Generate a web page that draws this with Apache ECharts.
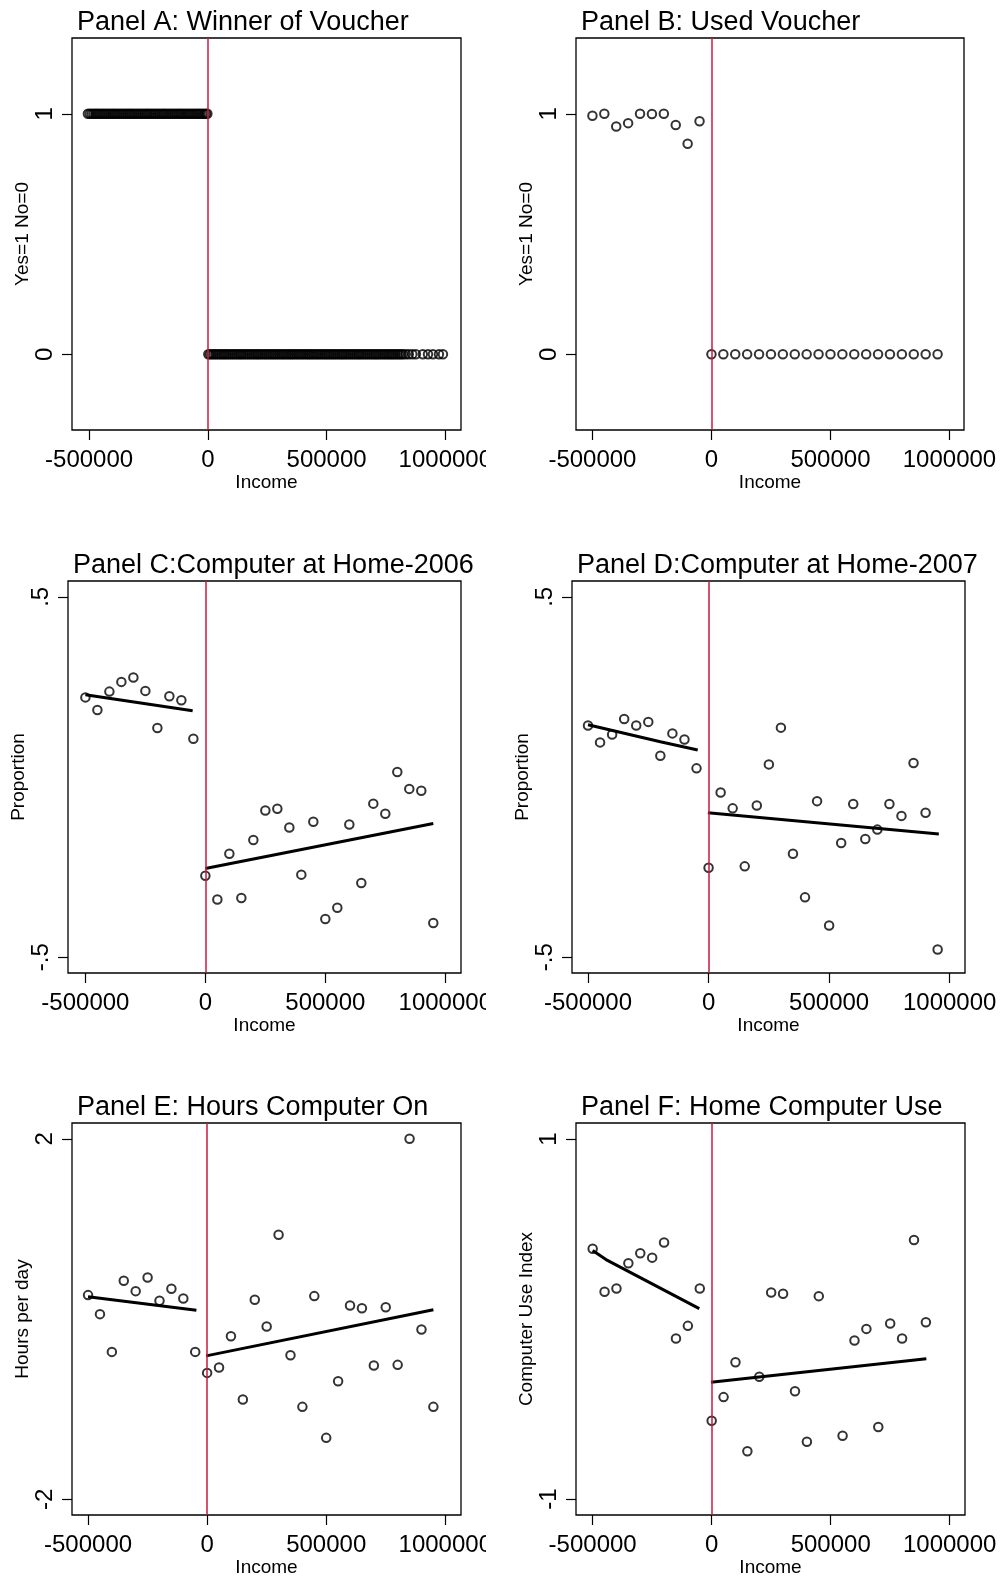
<!DOCTYPE html>
<html>
<head>
<meta charset="utf-8">
<script src="https://cdn.jsdelivr.net/npm/echarts@6.0.0/dist/echarts.min.js"></script>
<style>
  html, body { margin: 0; padding: 0; background: #fff; }
  #container { width: 1000px; height: 1579px; }
</style>
</head>
<body>
<div id="container"></div>
<script>
var FONT = '"Liberation Sans", Arial, Helvetica, sans-serif';
var RED = '#c8193f';

// income bins (binned means)
var leftBins = [-500000, -450000, -400000, -350000, -300000, -250000, -200000, -150000, -100000, -50000];
var rightBins = [0, 50000, 100000, 150000, 200000, 250000, 300000, 350000, 400000, 450000,
                 500000, 550000, 600000, 650000, 700000, 750000, 800000, 850000, 900000, 950000];

// Panel A: individual observations (winners y=1, losers y=0)
var winnerYesX = [-505000, -497000, -489000, -481000, -473000, -466000, -458000, -450000, -442000, -434000,
                  -426000, -418000, -410000, -402000, -395000, -387000, -379000, -371000, -363000, -355000,
                  -347000, -339000, -331000, -324000, -316000, -308000, -300000, -292000, -284000, -276000,
                  -268000, -260000, -253000, -245000, -237000, -229000, -221000, -213000, -205000, -197000,
                  -189000, -182000, -174000, -166000, -158000, -150000, -142000, -134000, -126000, -118000,
                  -111000, -103000, -95000, -87000, -79000, -71000, -63000, -55000, -47000, -40000,
                  -32000, -24000, -16000, -8000, -2000];
var winnerNoX = [2000, 9000, 17000, 25000, 33000, 41000, 49000, 57000, 65000, 72000, 80000, 88000, 96000,
                 104000, 112000, 120000, 128000, 136000, 143000, 151000, 159000, 167000, 175000, 183000,
                 191000, 199000, 207000, 214000, 222000, 230000, 238000, 246000, 254000, 262000, 270000,
                 278000, 285000, 293000, 301000, 309000, 317000, 325000, 333000, 341000, 349000, 356000,
                 364000, 372000, 380000, 388000, 396000, 404000, 412000, 420000, 427000, 435000, 443000,
                 451000, 459000, 467000, 475000, 483000, 491000, 498000, 506000, 514000, 522000, 530000,
                 538000, 546000, 554000, 562000, 569000, 577000, 585000, 593000, 601000, 609000, 617000,
                 625000, 633000, 640000, 648000, 656000, 664000, 672000, 680000, 688000, 696000, 704000,
                 711000, 719000, 727000, 735000, 743000, 751000, 759000, 767000, 775000, 782000, 790000,
                 798000, 806000, 814000, 822000, 833000, 846000, 861000, 876000, 905000, 927000, 948000,
                 973000, 990000];

// Panel B
var usedLeft = [0.992, 1.0, 0.947, 0.961, 1.0, 0.999, 1.0, 0.953, 0.875, 0.969];
var usedRight = [0, 0, 0, 0, 0, 0, 0, 0, 0, 0, 0, 0, 0, 0, 0, 0, 0, 0, 0, 0];

// Panel C
var home06Left = [0.221, 0.186, 0.237, 0.264, 0.276, 0.239, 0.136, 0.224, 0.213, 0.106];
var home06Right = [-0.274, -0.340, -0.213, -0.336, -0.175, -0.093, -0.088, -0.140, -0.271, -0.124,
                   -0.394, -0.363, -0.132, -0.294, -0.074, -0.102, 0.014, -0.033, -0.038, -0.405];
var home06FitLeft = [[-500000, 0.228], [-53000, 0.184]];
var home06FitRight = [[0, -0.254], [950000, -0.129]];

// Panel D
var home07Left = [0.143, 0.096, 0.118, 0.161, 0.143, 0.153, 0.059, 0.121, 0.104, 0.024];
var home07Right = [-0.252, -0.043, -0.087, -0.248, -0.079, 0.035, 0.137, -0.213, -0.334, -0.067,
                   -0.412, -0.183, -0.075, -0.172, -0.146, -0.075, -0.108, 0.039, -0.099, -0.479];
var home07FitLeft = [[-500000, 0.145], [-200000, 0.098], [-45000, 0.075]];
var home07FitRight = [[-3000, -0.099], [955000, -0.158]];

// Panel E
var hoursLeft = [0.265, 0.054, -0.365, 0.424, 0.309, 0.461, 0.202, 0.335, 0.228, -0.365];
var hoursRight = [-0.598, -0.538, -0.191, -0.894, 0.213, -0.083, 0.934, -0.402, -0.975, 0.254,
                  -1.319, -0.690, 0.150, 0.120, -0.516, 0.131, -0.509, 2.0, -0.117, -0.975];
var hoursFitLeft = [[-500000, 0.246], [-45000, 0.098]];
var hoursFitRight = [[-4000, -0.409], [950000, 0.102]];

// Panel F (no bins at 500000 and 950000)
var useRightX = [0, 50000, 100000, 150000, 200000, 250000, 300000, 350000, 400000, 450000,
                 550000, 600000, 650000, 700000, 750000, 800000, 850000, 900000];
var useLeft = [0.390, 0.151, 0.169, 0.310, 0.365, 0.341, 0.425, -0.108, -0.038, 0.169];
var useRight = [-0.565, -0.434, -0.240, -0.735, -0.321, 0.147, 0.140, -0.401, -0.682, 0.127,
                -0.649, -0.119, -0.055, -0.600, -0.025, -0.108, 0.439, -0.018];
var useFitLeft = [[-500000, 0.380], [-444000, 0.330], [-52000, 0.058]];
var useFitRight = [[-3000, -0.351], [902000, -0.221]];

function pairs(xs, ys) {
    return xs.map(function (x, i) { return [x, ys[i]]; });
}
function flat(xs, y) {
    return xs.map(function (x) { return [x, y]; });
}

var panels = [
    { title: 'Panel A: Winner of Voucher', yName: 'Yes=1 No=0',
      box: [72, 38, 389, 392], xr: [-572000, 1066000], yr: [-0.315, 1.315], yTicks: [0, 1],
      left: flat(winnerYesX, 1), right: flat(winnerNoX, 0) },
    { title: 'Panel B: Used Voucher', yName: 'Yes=1 No=0',
      box: [576, 38, 388, 392], xr: [-569000, 1061000], yr: [-0.315, 1.315], yTicks: [0, 1],
      left: pairs(leftBins, usedLeft), right: pairs(rightBins, usedRight) },
    { title: 'Panel C:Computer at Home-2006', yName: 'Proportion',
      box: [68, 581, 393, 392], xr: [-572500, 1065500], yr: [-0.544, 0.544], yTicks: [-0.5, 0.5],
      left: pairs(leftBins, home06Left), right: pairs(rightBins, home06Right),
      fitL: home06FitLeft, fitR: home06FitRight },
    { title: 'Panel D:Computer at Home-2007', yName: 'Proportion',
      box: [572, 581, 393, 392], xr: [-566400, 1063500], yr: [-0.544, 0.544], yTicks: [-0.5, 0.5],
      left: pairs(leftBins, home07Left), right: pairs(rightBins, home07Right),
      fitL: home07FitLeft, fitR: home07FitRight },
    { title: 'Panel E: Hours Computer On', yName: 'Hours per day',
      box: [72, 1123, 389, 392], xr: [-567400, 1066000], yr: [-2.175, 2.175], yTicks: [-2, 2],
      left: pairs(leftBins, hoursLeft), right: pairs(rightBins, hoursRight),
      fitL: hoursFitLeft, fitR: hoursFitRight },
    { title: 'Panel F: Home Computer Use', yName: 'Computer Use Index',
      box: [576, 1123, 389, 392], xr: [-570000, 1064300], yr: [-1.089, 1.089], yTicks: [-1, 1],
      left: pairs(leftBins, useLeft), right: pairs(useRightX, useRight),
      fitL: useFitLeft, fitR: useFitRight }
];

var xTicks = [-500000, 0, 500000, 1000000];

var titles = [], grids = [], xAxes = [], yAxes = [], series = [], graphics = [];

panels.forEach(function (p, i) {
    var b = p.box;
    titles.push({
        text: p.title, left: b[0] + 5, top: b[1] - 29, padding: 0,
        textStyle: { fontSize: 27, fontWeight: 'normal', color: '#000', fontFamily: FONT }
    });
    grids.push({
        left: b[0], top: b[1], width: b[2], height: b[3],
        show: true, borderColor: '#000', borderWidth: 1.3, backgroundColor: 'transparent'
    });
    xAxes.push({
        type: 'value', gridIndex: i, min: p.xr[0], max: p.xr[1],
        axisLine: { show: false, onZero: false }, splitLine: { show: false },
        axisTick: { show: true, customValues: xTicks, length: 10, lineStyle: { color: '#000', width: 1.2 } },
        axisLabel: { customValues: xTicks, color: '#000', fontSize: 24, fontFamily: FONT, margin: 18,
                     formatter: function (v) { return String(v); } },
        name: 'Income', nameLocation: 'middle', nameGap: 42,
        nameTextStyle: { fontSize: 19, color: '#000', fontFamily: FONT }
    });
    yAxes.push({
        type: 'value', gridIndex: i, min: p.yr[0], max: p.yr[1],
        axisLine: { show: false, onZero: false }, splitLine: { show: false },
        axisTick: { show: true, customValues: p.yTicks, length: 10, lineStyle: { color: '#000', width: 1.2 } },
        axisLabel: { customValues: p.yTicks, rotate: 90, color: '#000', fontSize: 24, fontFamily: FONT, margin: 15,
                     formatter: function (v) { return String(v).replace('0.', '.'); } },
        name: p.yName, nameLocation: 'middle', nameGap: 40,
        nameTextStyle: { fontSize: 19, color: '#000', fontFamily: FONT }
    });

    var dot = {
        type: 'scatter', xAxisIndex: i, yAxisIndex: i, symbol: 'circle', symbolSize: 8.5, z: 2,
        itemStyle: { color: 'rgba(0,0,0,0)', borderColor: '#000', borderWidth: 2 }
    };
    series.push(Object.assign({}, dot, { data: p.left }));
    series.push(Object.assign({}, dot, { data: p.right }));

    [p.fitL, p.fitR].forEach(function (fit) {
        if (!fit) return;
        series.push({
            type: 'line', xAxisIndex: i, yAxisIndex: i, data: fit, showSymbol: false, z: 3,
            lineStyle: { color: '#000', width: 3 }
        });
    });

    // cutoff line at zero income
    series.push({
        type: 'line', xAxisIndex: i, yAxisIndex: i, data: [], z: 4,
        markLine: {
            silent: true, symbol: ['none', 'none'], label: { show: false },
            lineStyle: { color: RED, width: 1.5, type: 'solid' },
            data: [{ xAxis: 0 }]
        }
    });

    // left-column panels had their last tick label cropped in the source figure
    if (b[0] < 500) {
        graphics.push({
            type: 'rect', z: 100, left: 486, top: b[1] + b[3] + 12,
            shape: { width: 14, height: 34 }, style: { fill: '#fff' }
        });
    }
});

var myChart = echarts.init(document.getElementById('container'));
var option = {
    animation: false,
    backgroundColor: '#fff',
    title: titles,
    grid: grids,
    xAxis: xAxes,
    yAxis: yAxes,
    series: series,
    graphic: graphics
};
myChart.setOption(option);
</script>
</body>
</html>
